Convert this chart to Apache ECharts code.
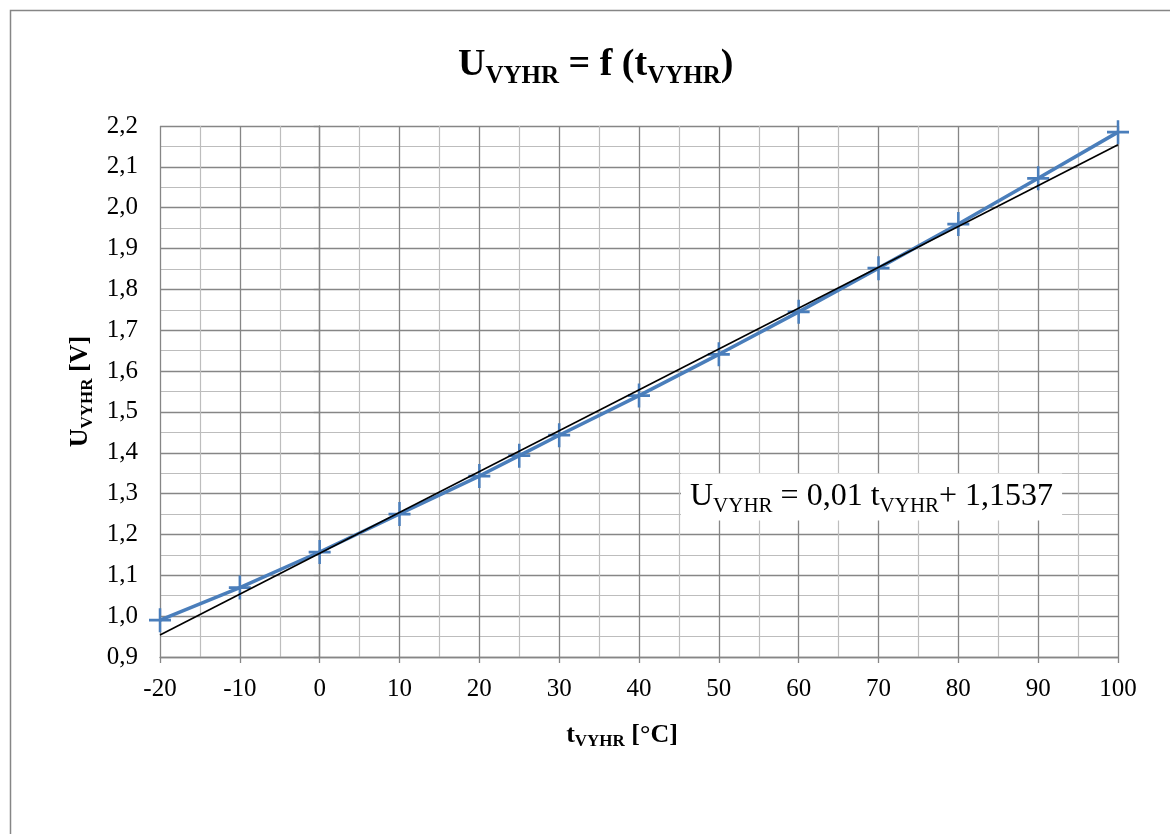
<!DOCTYPE html>
<html>
<head>
<meta charset="utf-8">
<script src="https://cdn.jsdelivr.net/npm/echarts@6/dist/echarts.min.js"></script>
<style>
  html, body { margin: 0; padding: 0; background: #fff; }
  #chart { width: 1170px; height: 834px; }
</style>
</head>
<body>
<div id="chart"></div>
<script>
const tempC = [-20, -10, 0, 10, 20, 25, 30, 40, 50, 60, 70, 80, 90, 100];
const voltage = [0.99, 1.07, 1.157, 1.25, 1.343, 1.393, 1.443, 1.54, 1.641, 1.745, 1.852, 1.96, 2.072, 2.185];

// linear trendline ends (U = 0,01 t + 1,1537)
const trendX = [-20, 100];
const trendY = [0.954, 2.154];

const xRange = [-20, 100, 10];
const yRange = [0.9, 2.2, 0.1];

const serif = "'Liberation Serif', 'DejaVu Serif', serif";
const blue = '#4A7EBB';
const gridMajor = '#868686';
const gridMinor = '#BDBDBD';

const plus = 'path://M9.75,0H12.25V9.75H22V12.25H12.25V22H9.75V12.25H0V9.75H9.75Z';

const chart = echarts.init(document.getElementById('chart'), null, { renderer: 'canvas' });

function axisCommon() {
  return {
    axisLine: { show: true, lineStyle: { color: gridMajor, width: 1.3 } },
    axisTick: { show: true, inside: false, length: 6, lineStyle: { color: gridMajor, width: 1.3 } },
    splitLine: { show: true, lineStyle: { color: gridMajor, width: 1.3 } },
    minorTick: { show: false, splitNumber: 2 },
    minorSplitLine: { show: true, lineStyle: { color: gridMinor, width: 1.2 } }
  };
}

chart.setOption({
  animation: false,
  backgroundColor: '#fff',
  title: [
    {
      text: '{a|U}{b|VYHR}{a| = f (t}{b|VYHR}{a|)}',
      left: 458,
      top: 40,
      padding: 0,
      textStyle: {
        rich: {
          a: { fontFamily: serif, fontSize: 38, fontWeight: 'bold', color: '#000', lineHeight: 50 },
          b: { fontFamily: serif, fontSize: 25, fontWeight: 'bold', color: '#000', lineHeight: 26, padding: [24, 0, 0, 0] }
        }
      }
    },
    {
      text: '{a|U}{b|VYHR}{a| = 0,01 t}{b|VYHR}{a|+ 1,1537}',
      left: 681,
      top: 473,
      padding: [4, 9, 4, 9],
      backgroundColor: '#fff',
      textStyle: {
        fontWeight: 'normal',
        rich: {
          a: { fontFamily: serif, fontSize: 32, fontWeight: 'normal', color: '#000', lineHeight: 40 },
          b: { fontFamily: serif, fontSize: 21, fontWeight: 'normal', color: '#000', lineHeight: 22, padding: [18, 0, 0, 0] }
        }
      }
    }
  ],
  graphic: [
    {
      type: 'rect',
      silent: true,
      shape: { x: 10.5, y: 10.5, width: 1200, height: 900 },
      style: { fill: 'none', stroke: gridMajor, lineWidth: 1.5 }
    }
  ],
  grid: { left: 160, right: 52, top: 126, bottom: 177 },
  xAxis: Object.assign(axisCommon(), {
    type: 'value',
    min: xRange[0],
    max: xRange[1],
    interval: xRange[2],
    name: '{a|t}{b|VYHR}{a| [°C]}',
    nameLocation: 'middle',
    nameGap: 62,
    nameTextStyle: {
      padding: [0, 34, 0, 0],
      rich: {
        a: { fontFamily: serif, fontSize: 26, fontWeight: 'bold', color: '#000', lineHeight: 32 },
        b: { fontFamily: serif, fontSize: 17, fontWeight: 'bold', color: '#000', lineHeight: 18, padding: [14, 0, 0, 0] }
      }
    },
    axisLabel: { margin: 20, fontFamily: serif, fontSize: 25, color: '#000' }
  }),
  yAxis: Object.assign(axisCommon(), {
    type: 'value',
    min: yRange[0],
    max: yRange[1],
    interval: yRange[2],
    name: '{a|U}{b|VYHR}{a| [V]}',
    nameLocation: 'middle',
    nameGap: 60,
    nameTextStyle: {
      rich: {
        a: { fontFamily: serif, fontSize: 26, fontWeight: 'bold', color: '#000', lineHeight: 32 },
        b: { fontFamily: serif, fontSize: 17, fontWeight: 'bold', color: '#000', lineHeight: 18, padding: [14, 0, 0, 0] }
      }
    },
    axisLabel: {
      margin: 22,
      fontFamily: serif,
      fontSize: 25,
      color: '#000',
      formatter: v => v.toFixed(1).replace('.', ',')
    }
  }),
  series: [
    {
      type: 'line',
      data: tempC.map((t, i) => [t, voltage[i]]),
      clip: false,
      z: 3,
      lineStyle: { color: blue, width: 3.5 },
      itemStyle: { color: blue },
      symbol: plus,
      symbolSize: [22, 24],
      showSymbol: true
    },
    {
      type: 'line',
      data: trendX.map((t, i) => [t, trendY[i]]),
      symbol: 'none',
      z: 4,
      lineStyle: { color: '#000', width: 1.6 }
    }
  ]
});

window.addEventListener('resize', () => chart.resize());
</script>
</body>
</html>
